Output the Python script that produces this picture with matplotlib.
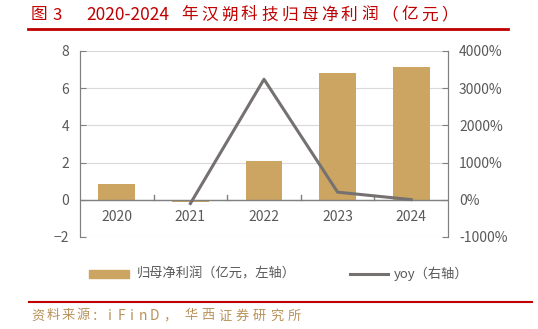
import matplotlib.pyplot as plt
import matplotlib.ticker as mticker
from matplotlib.patches import Rectangle
from matplotlib.lines import Line2D

plt.rcParams['font.family'] = ['Noto Sans CJK SC', 'DejaVu Sans']

# ── Data ──────────────────────────────────────────────────────────────────────
YEARS   = ['2020', '2021', '2022', '2023', '2024']
PROFIT  = [0.85, -0.1, 2.06, 6.82, 7.14]         # 亿元, left axis
YOY_X   = ['2021', '2022', '2023', '2024']
YOY     = [-100, 3240, 205, 5]                    # %, right axis

TITLE_A = '图'
TITLE_N = '3'
TITLE_B = '2020-2024'
TITLE_C = '年汉朔科技归母净利润（亿元）'
SRC_A   = '资料来源：'
SRC_B   = 'iFinD'
SRC_P   = '，'
SRC_C   = '华西证券研究所'
LEG_BAR = '归母净利润（亿元，左轴）'
LEG_LN  = 'yoy（右轴）'

# ── Style ─────────────────────────────────────────────────────────────────────
BAR_C   = '#CDA562'
LINE_C  = '#767171'
RED     = '#C00000'
GOLD    = '#B8925A'
TXT_C   = '#595959'
GRID_C  = '#D9D9D9'
AXIS_C  = '#808080'

W, H = 538, 329
fig = plt.figure(figsize=(W / 100, H / 100), dpi=100)


def px(x, y):
    return x / W, 1 - y / H


def spaced(text, x0, y, step, ha='left', **kw):
    # draw text one char at a time with a fixed advance (wide letter spacing)
    for i, ch in enumerate(text):
        fig.text(*px(x0 + i * step, y), ch, ha=ha, va='center', **kw)


ax = fig.add_axes([80 / W, 1 - 237 / H, 368 / W, 186 / H])
ax2 = ax.twinx()

x = list(range(len(YEARS)))
ax.bar(x, PROFIT, width=0.5, color=BAR_C, zorder=2)
ax.set_xlim(-0.5, len(YEARS) - 0.5)
ax.set_ylim(-2, 8)
ax.yaxis.set_major_locator(mticker.MultipleLocator(2))
ax.grid(axis='y', color=GRID_C, linewidth=0.8, zorder=0)
ax.set_axisbelow(True)
ax.set_xticks([])

# category axis at 0 with ticks between categories
ax.axhline(0, color=AXIS_C, linewidth=1, zorder=3)
for b in [i + 0.5 for i in range(len(YEARS) - 1)]:
    ax.plot([b, b], [0, 0.25], color=AXIS_C, linewidth=1, zorder=3)
for xi, yr in zip(x, YEARS):
    ax.text(xi, -0.95, yr, ha='center', va='center', fontsize=10, color=TXT_C)

yoy_pos = [YEARS.index(y) for y in YOY_X]
ax2.plot(yoy_pos, YOY, color=LINE_C, linewidth=2.2, zorder=4)
ax2.set_ylim(-1000, 4000)
ax2.yaxis.set_major_locator(mticker.MultipleLocator(1000))
ax2.yaxis.set_major_formatter(mticker.FuncFormatter(lambda v, _: f'{v:.0f}%'))

for a in (ax, ax2):
    a.spines['top'].set_visible(False)
    a.spines['bottom'].set_visible(False)
    a.spines['left'].set_color(AXIS_C)
    a.spines['right'].set_color(AXIS_C)
    a.tick_params(axis='y', direction='in', length=4, color=AXIS_C,
                  labelcolor=TXT_C, labelsize=10, pad=8)
ax.tick_params(axis='x', length=0)

# ── Title, rules, legend, source ──────────────────────────────────────────────
fig.text(*px(31, 15), TITLE_A, fontsize=12, color=RED, ha='left', va='center')
fig.text(*px(52, 15), TITLE_N, fontsize=12, color=RED, ha='left', va='center')
fig.text(*px(86, 15), TITLE_B, fontsize=12.5, color=RED, ha='left', va='center')
spaced(TITLE_C, 181, 15, 20, fontsize=12, color=RED)
fig.add_artist(Line2D([28 / W, 508 / W], [1 - 29 / H] * 2,
                      color=RED, linewidth=2))
fig.add_artist(Line2D([29 / W, 532 / W], [1 - 302 / H] * 2,
                      color=RED, linewidth=1.5))

spaced(SRC_A, 31, 316, 15.2, fontsize=9.5, color=GOLD)
spaced(SRC_B, 110, 316, 11, ha='center', fontsize=10, color=GOLD)
fig.text(*px(163, 316), SRC_P, fontsize=9.5, color=GOLD, ha='left', va='center')
spaced(SRC_C, 184, 316, 17.2, fontsize=9.5, color=GOLD)

fig.add_artist(Rectangle((89 / W, 1 - 278 / H), 40 / W, 8 / H,
                         transform=fig.transFigure, color=BAR_C))
fig.text(*px(137, 274), LEG_BAR, fontsize=9.5, color=TXT_C,
         ha='left', va='center')
fig.add_artist(Line2D([350 / W, 388 / W], [1 - 274 / H] * 2,
                      color=LINE_C, linewidth=2.2))
fig.text(*px(394, 274), LEG_LN, fontsize=9.5, color=TXT_C,
         ha='left', va='center')

fig.savefig('out.png', dpi=100)
